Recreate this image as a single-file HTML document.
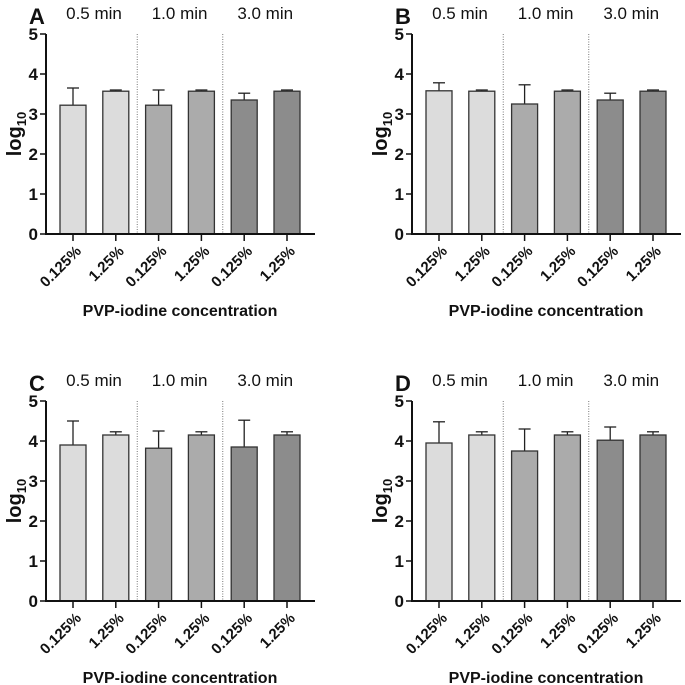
<!DOCTYPE html>
<html><head><meta charset="utf-8"><style>
html,body{margin:0;padding:0;background:#fff;}
svg{display:block;font-family:"Liberation Sans",Arial,sans-serif;}
</style></head><body>
<svg id="chart" width="685" height="685" viewBox="0 0 685 685"></svg>
<script>
const categories = ["0.125%","1.25%","0.125%","1.25%","0.125%","1.25%"];
const timeLabels = ["0.5 min","1.0 min","3.0 min"];
const yTicks = [0,1,2,3,4,5];
const panelLetters = ["A","B","C","D"];
const meansA = [3.22,3.57,3.22,3.57,3.35,3.57];
const errA   = [3.65,3.60,3.60,3.60,3.52,3.60];
const meansB = [3.58,3.57,3.25,3.57,3.35,3.57];
const errB   = [3.78,3.60,3.73,3.60,3.52,3.60];
const meansC = [3.90,4.15,3.82,4.15,3.85,4.15];
const errC   = [4.50,4.23,4.25,4.23,4.52,4.23];
const meansD = [3.95,4.15,3.75,4.15,4.02,4.15];
const errD   = [4.48,4.23,4.30,4.23,4.35,4.23];
const panelMeans = [meansA,meansB,meansC,meansD];
const panelErr = [errA,errB,errC,errD];

const NS="http://www.w3.org/2000/svg";
const svg=document.getElementById('chart');
function mk(tag,attrs,parent){const e=document.createElementNS(NS,tag);for(const k in attrs)e.setAttribute(k,attrs[k]);(parent||svg).appendChild(e);return e;}
const fills=["#dcdcdc","#dcdcdc","#ababab","#ababab","#8c8c8c","#8c8c8c"];

panelLetters.forEach((L,p)=>{
  const ox=(p%2)*366, oy=Math.floor(p/2)*367;
  const g=mk('g',{transform:`translate(${ox},${oy})`});
  
  
  const x0=46, xEnd=315, yTop=34, yBot=234;
  const ys=v=>yBot-(v/5)*(yBot-yTop);
  const xs=i=>73+i*42.8;
  const bw=26;
  const lt=mk('text',{x:29,y:24,'font-size':22,'font-weight':'bold',fill:'#111'},g);lt.textContent=L;
  
  
  timeLabels.forEach((t,k)=>{
    const tt=mk('text',{x:xs(2*k)+21,y:19,'font-size':17,'text-anchor':'middle',fill:'#111'},g);tt.textContent=t;
    
    
  });
  [1,2].forEach(k=>{
    const x=(xs(2*k-1)+xs(2*k))/2;
    const d=mk('line',{x1:x,x2:x,y1:yTop,y2:yBot,stroke:'#555','stroke-width':0.8,'stroke-dasharray':'1,1.5'},g);
    
    
  });
  panelMeans[p].forEach((m,i)=>{
    const cx=xs(i), e=panelErr[p][i];
    const el=mk('line',{x1:cx,x2:cx,y1:ys(e),y2:ys(m),stroke:'#222','stroke-width':1.3},g);
    
    
    const cap=mk('line',{x1:cx-6,x2:cx+6,y1:ys(e),y2:ys(e),stroke:'#222','stroke-width':1.3},g);
    
    
    const r=mk('rect',{x:cx-bw/2,y:ys(m),width:bw,height:yBot-ys(m),fill:fills[i],stroke:'#333','stroke-width':1.3},g);
    
    
    const tk=mk('line',{x1:cx,x2:cx,y1:yBot,y2:yBot+7,stroke:'#111','stroke-width':1.5},g);
    
    
    const tl=mk('text',{x:cx+9,y:yBot+18,'font-size':15,'font-weight':'bold','text-anchor':'end',fill:'#111',transform:`rotate(-45 ${cx+9} ${yBot+18})`},g);
    tl.textContent=categories[i];
    
    
  });
  const ya=mk('line',{x1:x0,x2:x0,y1:yTop,y2:yBot+1,stroke:'#111','stroke-width':2},g);
  
  
  const xa=mk('line',{x1:x0-1,x2:xEnd,y1:yBot,y2:yBot,stroke:'#111','stroke-width':2},g);
  
  
  yTicks.forEach(v=>{
    const t=mk('line',{x1:x0-6,x2:x0,y1:ys(v),y2:ys(v),stroke:'#111','stroke-width':1.5},g);
    
    
    const tl=mk('text',{x:x0-8,y:ys(v)+6,'font-size':17,'font-weight':'bold','text-anchor':'end',fill:'#111'},g);tl.textContent=v;
    
    
  });
  const yt=mk('text',{x:0,y:0,'font-size':20,'font-weight':'bold',fill:'#111','text-anchor':'middle',transform:`translate(21,134) rotate(-90)`},g);
  yt.innerHTML='log<tspan font-size="13" dy="5">10</tspan>';
  
  
  const xt=mk('text',{x:180,y:316,'font-size':16,'font-weight':'bold',fill:'#111','text-anchor':'middle'},g);
  xt.textContent='PVP-iodine concentration';
  
  
});
</script>
</body></html>
